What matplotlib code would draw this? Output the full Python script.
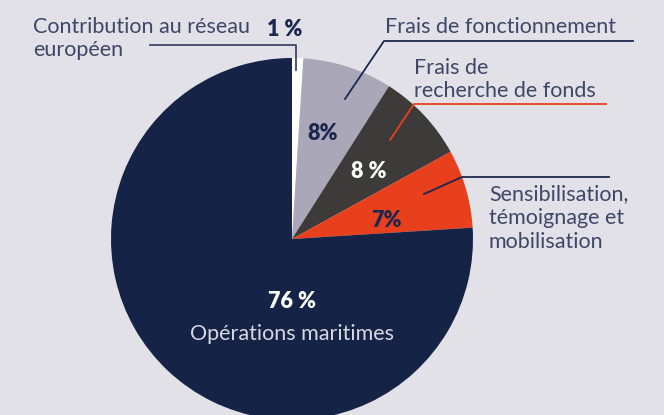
import matplotlib
matplotlib.use("Agg")
import matplotlib.pyplot as plt

# Data
categories = ["Contribution au réseau européen", "Frais de fonctionnement",
              "Frais de recherche de fonds",
              "Sensibilisation, témoignage et mobilisation",
              "Opérations maritimes"]
values = [1, 8, 8, 7, 76]
pct_labels = ["1 %", "8%", "8 %", "7%", "76 %"]
colors = ["#ffffff", "#aaa7b9", "#3c3b3a", "#e8401c", "#152347"]

W, H = 664, 415
BG = "#e2e1e7"
TXT = "#3e4768"
NAVY = "#1c2750"

fig = plt.figure(figsize=(W / 100, H / 100), dpi=100, facecolor=BG)
ax = fig.add_axes([0, 0, 1, 1])
ax.set_facecolor(BG)

def Y(y):
    return H - y

cx, cy, r = 292, 239, 181
ax.pie(values, colors=colors, startangle=90, counterclock=False,
       center=(cx, Y(cy)), radius=r, frame=True,
       wedgeprops=dict(linewidth=0))
ax.set_xlim(0, W)
ax.set_ylim(0, H)
ax.set_aspect("equal")
ax.axis("off")

fam = ["Lato", "DejaVu Sans"]
fs = 15.5
fsb = 15.5

# Contribution label
ax.text(33, Y(33), "Contribution au réseau", fontsize=fs, family=fam,
        weight="normal", color=TXT, va="baseline")
ax.text(33, Y(56), "européen", fontsize=fs, family=fam,
        weight="normal", color=TXT, va="baseline")
ax.text(267, Y(36), pct_labels[0], fontsize=fsb, family=fam,
        weight="heavy", color=NAVY, va="baseline")
ax.plot([150, 296, 296], [Y(45), Y(45), Y(70)], color=TXT, lw=1.3)

# Frais de fonctionnement
ax.text(385, Y(33), "Frais de fonctionnement", fontsize=fs, family=fam,
        weight="normal", color=TXT, va="baseline")
ax.plot([633, 384, 345], [Y(41), Y(41), Y(99)], color=NAVY, lw=1.3)

# Frais de recherche de fonds
ax.text(414, Y(74), "Frais de", fontsize=fs, family=fam,
        weight="normal", color=TXT, va="baseline")
ax.text(414, Y(97), "recherche de fonds", fontsize=fs, family=fam,
        weight="normal", color=TXT, va="baseline")
ax.plot([606, 414, 390], [Y(104), Y(104), Y(140)], color="#e8401c", lw=1.3)

# Sensibilisation
for i, line in enumerate(["Sensibilisation,", "témoignage et", "mobilisation"]):
    ax.text(489, Y(200 + i * 24), line, fontsize=fs, family=fam,
            weight="normal", color=TXT, va="baseline")
ax.plot([609, 462, 424], [Y(177), Y(177), Y(194)], color=NAVY, lw=1.3)

# Percent labels in slices
ax.text(323, Y(140), pct_labels[1], fontsize=fsb, family=fam, weight="heavy",
        color=NAVY, va="baseline", ha="center")
ax.text(369, Y(178), pct_labels[2], fontsize=fsb, family=fam, weight="heavy",
        color="white", va="baseline", ha="center")
ax.text(386, Y(227), pct_labels[3], fontsize=fsb, family=fam, weight="heavy",
        color=NAVY, va="baseline", ha="center")
ax.text(292, Y(308), pct_labels[4], fontsize=fsb, family=fam, weight="heavy",
        color="white", va="baseline", ha="center")
ax.text(292, Y(340), "Opérations maritimes", fontsize=fs, family=fam,
        weight="normal", color="#d8d8e0", va="baseline", ha="center")

fig.savefig("out.png", dpi=100, facecolor=BG)
